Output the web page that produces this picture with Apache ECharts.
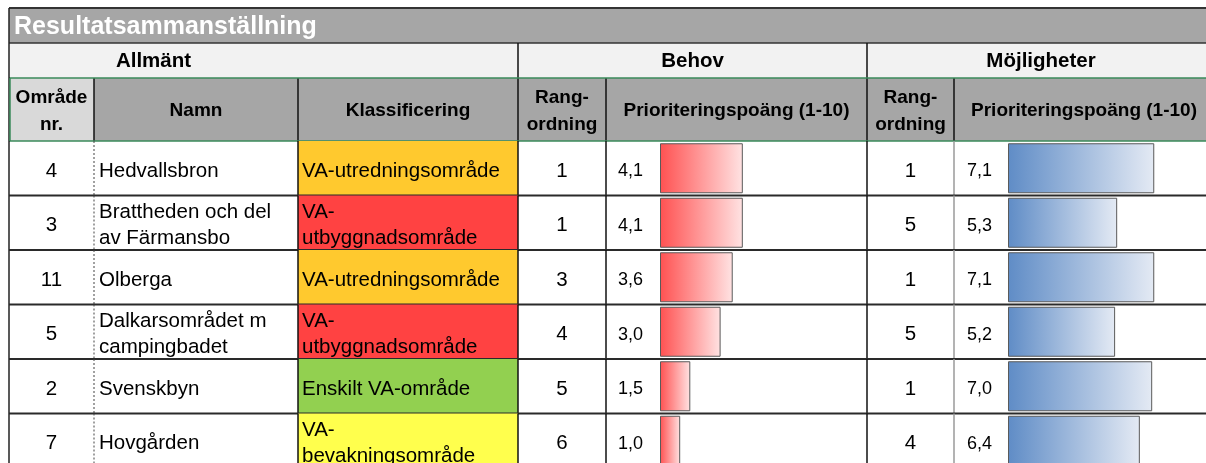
<!DOCTYPE html>
<html>
<head>
<meta charset="utf-8">
<script src="https://cdn.jsdelivr.net/npm/echarts@6/dist/echarts.min.js"></script>
<style>
html, body { margin: 0; padding: 0; background: #fff; }
#chart { width: 1206px; height: 463px; }
</style>
</head>
<body>
<div id="chart"></div>
<script>
// table data, one entry per row (top to bottom)
const areaNr = ['4', '3', '11', '5', '2', '7'];
const areaNames = ['Hedvallsbron', 'Brattheden och del\nav Färmansbo', 'Olberga', 'Dalkarsområdet m\ncampingbadet', 'Svenskbyn', 'Hovgården'];
const classes = ['VA-utredningsområde', 'VA-\nutbyggnadsområde', 'VA-utredningsområde', 'VA-\nutbyggnadsområde', 'Enskilt VA-område', 'VA-\nbevakningsområde'];
const behovRank = [1, 1, 3, 4, 5, 6];
const behovScore = [4.1, 4.1, 3.6, 3.0, 1.5, 1.0];
const mojlRank = [1, 5, 1, 5, 1, 4];
const mojlScore = [7.1, 5.3, 7.1, 5.2, 7.0, 6.4];

const classColors = {
    'VA-utredningsområde': '#FFC92E',
    'VA-utbyggnadsområde': '#FF4242',
    'Enskilt VA-område': '#92D050',
    'VA-bevakningsområde': '#FFFF4D'
};

const FONT = '"Liberation Sans", Arial, sans-serif';
const colX = [9, 94, 298, 518, 606, 867, 954, 1215];
const bodyTop = 141;
const bodyH = 327;

const chart = echarts.init(document.getElementById('chart'));

function line(x1, y1, x2, y2, color, w, dash) {
    return {
        type: 'line',
        shape: { x1: x1, y1: y1, x2: x2, y2: y2 },
        style: { stroke: color, lineWidth: w, lineDash: dash || null }
    };
}
function txt(text, x, y, size, opts) {
    opts = opts || {};
    return {
        type: 'text',
        x: x, y: y,
        style: {
            text: text,
            fill: opts.fill || '#000',
            font: (opts.bold ? 'bold ' : '') + size + 'px ' + FONT,
            align: opts.align || 'center',
            verticalAlign: 'middle',
            lineHeight: opts.lh || size * 1.2
        }
    };
}

// header rows (static layout)
const header = [
    { type: 'rect', shape: { x: 9, y: 8, width: 1206, height: 35 }, style: { fill: '#A6A6A6' } },
    { type: 'rect', shape: { x: 9, y: 43, width: 1206, height: 35 }, style: { fill: '#F2F2F2' } },
    { type: 'rect', shape: { x: 9, y: 78, width: 1206, height: 63 }, style: { fill: '#A6A6A6' } },
    { type: 'rect', shape: { x: 9, y: 78, width: 85, height: 63 }, style: { fill: '#D9D9D9' } },
    line(9, 8, 1215, 8, '#333', 2),
    line(9, 43, 1215, 43, '#333', 1.5),
    line(518, 43, 518, 78, '#111', 1.5),
    line(867, 43, 867, 78, '#111', 1.5),
    line(94, 78, 94, 141, '#111', 1.5),
    line(298, 78, 298, 141, '#111', 1.5),
    line(518, 78, 518, 141, '#111', 1.5),
    line(606, 78, 606, 141, '#111', 1.5),
    line(867, 78, 867, 141, '#111', 1.5),
    line(954, 78, 954, 141, '#111', 1.5),
    line(9, 78, 1215, 78, '#3A8A5A', 1.5),
    line(9, 141, 1215, 141, '#3A8A5A', 1.5),
    line(9, 8, 9, 463, '#222', 1.5),
    line(10, 78, 10, 141, '#3A8A5A', 1.5),
    txt('Resultatsammanställning', 14, 27.5, 25, { bold: true, fill: '#fff', align: 'left' }),
    txt('Allmänt', 153.5, 61.5, 20.5, { bold: true }),
    txt('Behov', 692.5, 61.5, 20.5, { bold: true }),
    txt('Möjligheter', 1041, 61.5, 20.5, { bold: true }),
    txt('Område\nnr.', 51.5, 111, 19, { bold: true, lh: 27 }),
    txt('Namn', 196, 111, 19, { bold: true }),
    txt('Klassificering', 408, 111, 19, { bold: true }),
    txt('Rang-\nordning', 562, 111, 19, { bold: true, lh: 27 }),
    txt('Prioriteringspoäng (1-10)', 736.5, 111, 19, { bold: true }),
    txt('Rang-\nordning', 910.5, 111, 19, { bold: true, lh: 27 }),
    txt('Prioriteringspoäng (1-10)', 1084, 111, 19, { bold: true })
];

const rowData = areaNr.map((n, i) => [0, i]);

function renderRow(params, api) {
    const i = params.dataIndex;
    const c = api.coord([0, i]);
    const h = api.size([0, 1])[1];
    const y0 = c[1] - h / 2, y1 = c[1] + h / 2, ym = c[1] + 3;
    const cls = classes[i];
    const kids = [
        { type: 'rect', shape: { x: colX[2], y: y0, width: colX[3] - colX[2], height: h }, style: { fill: classColors[cls.replace('\n', '')] } },
        txt(areaNr[i], (colX[0] + colX[1]) / 2, ym, 20.5),
        txt(areaNames[i], 99, ym, 20.5, { align: 'left', lh: 26 }),
        txt(cls, 302, ym, 20.5, { align: 'left', lh: 26 }),
        txt(String(behovRank[i]), (colX[3] + colX[4]) / 2, ym, 20.5),
        txt(String(mojlRank[i]), (colX[5] + colX[6]) / 2, ym, 20.5),
        line(colX[1], y0, colX[1], y1, '#444', 1, [2, 2]),
        line(colX[2], y0, colX[2], y1, '#111', 1.5),
        line(colX[3], y0, colX[3], y1, '#111', 1.5),
        line(colX[4], y0, colX[4], y1, '#111', 1.5),
        line(colX[5], y0, colX[5], y1, '#111', 1.5),
        line(colX[6], y0, colX[6], y1, '#9A9A9A', 1.5),
        line(9, y1, 1215, y1, '#2A2A2A', 2)
    ];
    return { type: 'group', children: kids };
}

function fmt(p) {
    return p.value.toFixed(1).replace('.', ',');
}

const option = {
    animation: false,
    graphic: { elements: header },
    grid: [
        { left: 9, top: bodyTop, width: 1206, height: bodyH, outerBoundsMode: 'none' },
        { left: 660, top: bodyTop, width: 202, height: bodyH, outerBoundsMode: 'none' },
        { left: 1008, top: bodyTop, width: 206, height: bodyH, outerBoundsMode: 'none' }
    ],
    xAxis: [
        { gridIndex: 0, type: 'value', min: 0, max: 1, show: false },
        { gridIndex: 1, type: 'value', min: 0, max: 10, show: false },
        { gridIndex: 2, type: 'value', min: 0, max: 10, show: false }
    ],
    yAxis: [
        { gridIndex: 0, type: 'category', inverse: true, data: areaNr, show: false },
        { gridIndex: 1, type: 'category', inverse: true, data: areaNr, show: false },
        { gridIndex: 2, type: 'category', inverse: true, data: areaNr, show: false }
    ],
    series: [
        {
            type: 'custom',
            xAxisIndex: 0,
            yAxisIndex: 0,
            z: 1,
            clip: false,
            renderItem: renderRow,
            data: rowData
        },
        {
            type: 'bar',
            xAxisIndex: 1,
            yAxisIndex: 1,
            z: 3,
            barWidth: 50,
            itemStyle: {
                borderColor: '#5A5A5A',
                borderWidth: 1,
                color: new echarts.graphic.LinearGradient(0, 0, 1, 0, [
                    { offset: 0, color: '#FF5151' },
                    { offset: 1, color: '#FFE3E3' }
                ])
            },
            label: {
                show: true,
                position: 'left',
                distance: 17,
                offset: [0, 3],
                color: '#000',
                fontSize: 18,
                fontFamily: FONT,
                formatter: fmt
            },
            data: behovScore
        },
        {
            type: 'bar',
            xAxisIndex: 2,
            yAxisIndex: 2,
            z: 3,
            barWidth: 50,
            itemStyle: {
                borderColor: '#5A5A5A',
                borderWidth: 1,
                color: new echarts.graphic.LinearGradient(0, 0, 1, 0, [
                    { offset: 0, color: '#5F8CC6' },
                    { offset: 1, color: '#E4EAF4' }
                ])
            },
            label: {
                show: true,
                position: 'left',
                distance: 16,
                offset: [0, 3],
                color: '#000',
                fontSize: 18,
                fontFamily: FONT,
                formatter: fmt
            },
            data: mojlScore
        }
    ]
};

chart.setOption(option);
window.addEventListener('resize', () => chart.resize());
</script>
</body>
</html>
